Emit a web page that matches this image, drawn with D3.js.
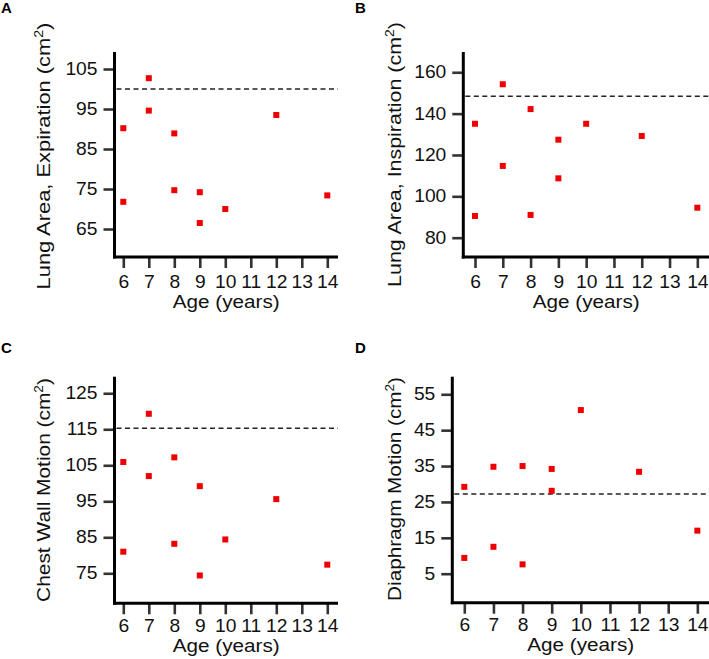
<!DOCTYPE html>
<html>
<head>
<meta charset="utf-8">
<script src="https://cdn.jsdelivr.net/npm/d3@7"></script>
<style>
  html, body { margin: 0; padding: 0; background: #fff; }
  svg { display: block; font-family: "Liberation Sans", Arial, sans-serif; }
</style>
</head>
<body>
<svg id="chart" width="709" height="659"></svg>
<script>
// ---- Data ----
const ages = [6, 6, 7, 7, 8, 8, 9, 9, 10, 12, 14];
const xTicks = [6, 7, 8, 9, 10, 11, 12, 13, 14];

const expiration = [90.2, 71.8, 102.7, 94.6, 88.9, 74.7, 74.2, 66.5, 70.0, 93.5, 73.4];
const inspiration = [135.1, 90.5, 154.2, 114.7, 142.2, 91.0, 127.4, 108.7, 135.1, 129.2, 94.5];
const chestWall = [105.9, 81.0, 119.3, 102.0, 107.2, 83.2, 99.2, 74.4, 84.4, 95.6, 77.4];
const diaphragm = [29.2, 9.4, 34.8, 12.5, 35.0, 7.6, 34.2, 28.1, 50.6, 33.4, 17.0];

const refLines = [100, 148.4, 115.3, 27.2];

const ticksA = [65, 75, 85, 95, 105];
const ticksB = [80, 100, 120, 140, 160];
const ticksC = [75, 85, 95, 105, 115, 125];
const ticksD = [5, 15, 25, 35, 45, 55];

const panelLetters = ["A", "B", "C", "D"];
const yLabels = ["Lung Area, Expiration (cm", "Lung Area, Inspiration (cm", "Chest Wall Motion (cm", "Diaphragm Motion (cm"];
const xLabel = "Age (years)";

// ---- Layout ----
const FONT = "'Liberation Sans', Arial, sans-serif";
const panels = [
  { letter: panelLetters[0], values: expiration, ref: refLines[0], yTicks: ticksA, yLabel: yLabels[0],
    x0: 114.5, x1: 338, y0: 52, y1: 257, xDom: [5.655, 14.42], yDom: [58, 109.25],
    lx: 0, ly: 0, labX: 50, labLen: 267, labCy: 156, xPad: 8, xLabOff: 50.5 },
  { letter: panelLetters[1], values: inspiration, ref: refLines[1], yTicks: ticksB, yLabel: yLabels[1],
    x0: 463.3, x1: 709, y0: 52, y1: 257, xDom: [5.579, 14.42], yDom: [70.66, 169.8],
    lx: 354, ly: 0, labX: 400.5, labLen: 265, labCy: 154.5, xPad: 8, xLabOff: 50.5 },
  { letter: panelLetters[2], values: chestWall, ref: refLines[2], yTicks: ticksC, yLabel: yLabels[2],
    x0: 114.5, x1: 338, y0: 376.7, y1: 603.3, xDom: [5.655, 14.42], yDom: [66.67, 129.6],
    lx: 0, ly: 340, labX: 50, labLen: 224, labCy: 490, xPad: 5, xLabOff: 48.5 },
  { letter: panelLetters[3], values: diaphragm, ref: refLines[3], yTicks: ticksD, yLabel: yLabels[3],
    x0: 452.3, x1: 709, y0: 376.7, y1: 602.7, xDom: [5.588, 14.40], yDom: [-3.08, 59.9],
    lx: 354, ly: 340, labX: 400.5, labLen: 224, labCy: 489, xPad: 5, xLabOff: 48.5 }
];

const svg = d3.select("#chart");
const TICK_SX = 1.1;

panels.forEach(p => {
  const g = svg.append("g");
  const x = d3.scaleLinear().domain(p.xDom).range([p.x0, p.x1]);
  const y = d3.scaleLinear().domain(p.yDom).range([p.y1, p.y0]);

  // panel letter
  g.append("text")
    .attr("x", p.lx + 1).attr("y", p.ly + 13)
    .attr("font-size", 15).attr("font-weight", "bold")
    .attr("font-family", FONT)
    .text(p.letter);

  // x axis ticks
  const xAxis = d3.axisBottom(x).tickValues(xTicks).tickSize(11).tickPadding(p.xPad).tickFormat(d3.format("d"));
  const gx = g.append("g").attr("transform", `translate(0,${p.y1})`).call(xAxis);
  gx.select(".domain").remove();
  gx.selectAll(".tick line").attr("stroke", "#333").attr("stroke-width", 2.6);
  gx.selectAll(".tick text").attr("font-size", 17.5).attr("fill", "#111")
    .attr("font-family", FONT)
    .attr("transform", `scale(${TICK_SX},1)`);

  // y axis ticks
  const yAxis = d3.axisLeft(y).tickValues(p.yTicks).tickSize(11).tickPadding(6).tickFormat(d3.format("d"));
  const gy = g.append("g").attr("transform", `translate(${p.x0},0)`).call(yAxis);
  gy.select(".domain").remove();
  gy.selectAll(".tick line").attr("stroke", "#333").attr("stroke-width", 2.6);
  gy.selectAll(".tick text").attr("font-size", 17.5).attr("fill", "#111")
    .attr("font-family", FONT)
    .attr("x", 0)
    .attr("transform", `translate(-17,0) scale(${TICK_SX},1)`);

  // axis lines
  g.append("line").attr("x1", p.x0).attr("x2", p.x0).attr("y1", p.y0).attr("y2", p.y1 + 1.5)
    .attr("stroke", "#000").attr("stroke-width", 3);
  g.append("line").attr("x1", p.x0 - 1.5).attr("x2", p.x1).attr("y1", p.y1).attr("y2", p.y1)
    .attr("stroke", "#000").attr("stroke-width", 3);

  // reference dashed line
  g.append("line")
    .attr("x1", p.x0 + 2).attr("x2", p.x1)
    .attr("y1", y(p.ref)).attr("y2", y(p.ref))
    .attr("stroke", "#222").attr("stroke-width", 1.4).attr("stroke-dasharray", "5,3.5");

  // points
  const s = 6;
  g.selectAll("rect.pt").data(p.values.map((v, i) => ({ age: ages[i], v })))
    .enter().append("rect").attr("class", "pt")
    .attr("x", d => x(d.age) - s / 2).attr("y", d => y(d.v) - s / 2)
    .attr("width", s).attr("height", s).attr("fill", "#ee0000");

  // x label
  const xl = g.append("text")
    .attr("x", 0).attr("y", 0)
    .attr("text-anchor", "middle").attr("font-size", 18.5).attr("fill", "#111")
    .attr("font-family", FONT)
    .text(xLabel);
  const xlLen = xl.node().getComputedTextLength();
  xl.attr("transform", `translate(${(p.x0 + p.x1) / 2},${p.y1 + p.xLabOff}) scale(${107 / xlLen},1)`);

  // y label
  const yl = g.append("text")
    .attr("x", 0).attr("y", 0)
    .attr("text-anchor", "middle").attr("font-size", 18.5).attr("fill", "#111")
    .attr("font-family", FONT);
  yl.append("tspan").text(p.yLabel);
  yl.append("tspan").attr("font-size", 12).attr("dy", -7).text("2");
  yl.append("tspan").attr("dy", 7).text(")");
  const ylLen = yl.node().getComputedTextLength();
  yl.attr("transform", `translate(${p.labX},${p.labCy}) rotate(-90) scale(${p.labLen / ylLen},1)`);
});
</script>
</body>
</html>
